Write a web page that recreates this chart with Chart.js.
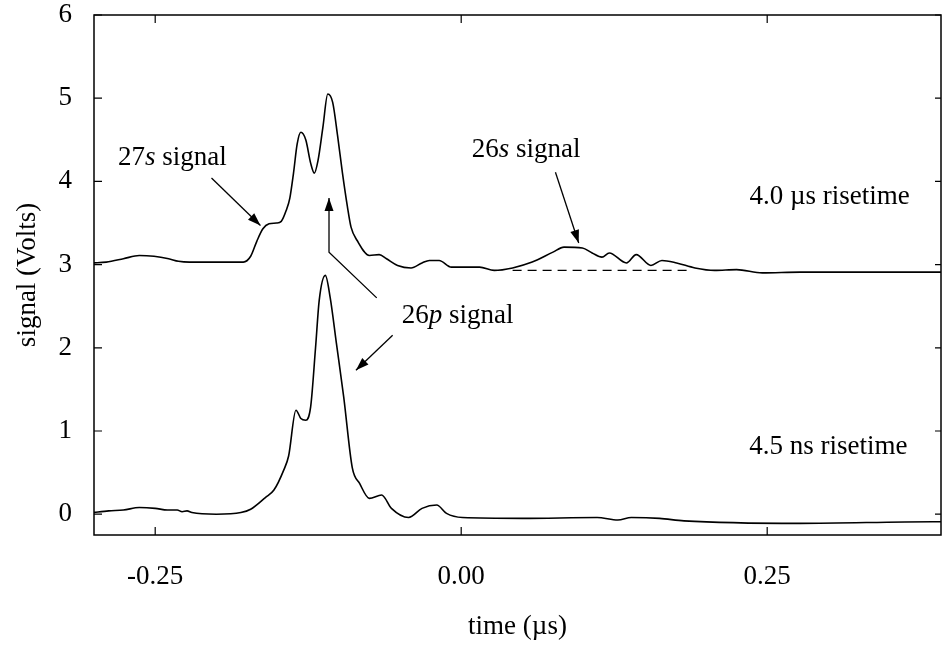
<!DOCTYPE html>
<html lang="en">
<head>
<meta charset="UTF-8">
<title>Signal vs time</title>
<script src="https://cdn.jsdelivr.net/npm/chart.js@4.4.1/dist/chart.umd.min.js"></script>
<style>
  html, body { margin: 0; padding: 0; background: #fff; }
  #wrap { width: 943px; height: 650px; position: relative; }
</style>
</head>
<body>
<div id="wrap"><canvas id="grafico"></canvas></div>
<script>
// upper trace (4.0 us risetime)
const upperTime = [-0.301, -0.290, -0.276, -0.263, -0.251, -0.239, -0.231, -0.222, -0.200, -0.178,
  -0.172, -0.167, -0.162, -0.157, -0.151, -0.147, -0.143, -0.140, -0.137, -0.134,
  -0.131, -0.127, -0.123, -0.120, -0.117, -0.113, -0.109, -0.105, -0.101, -0.097,
  -0.093, -0.090, -0.085, -0.075, -0.067, -0.061, -0.052, -0.041, -0.032, -0.026,
  -0.018, -0.008, 0.015, 0.027, 0.042, 0.058, 0.075, 0.084, 0.099, 0.107,
  0.115, 0.121, 0.135, 0.143, 0.155, 0.164, 0.176, 0.191, 0.207, 0.225,
  0.246, 0.277, 0.318, 0.392];
const upperSignal = [3.02, 3.03, 3.07, 3.11, 3.10, 3.07, 3.04, 3.03, 3.03, 3.03,
  3.10, 3.28, 3.43, 3.49, 3.50, 3.52, 3.65, 3.80, 4.10, 4.45,
  4.59, 4.50, 4.22, 4.10, 4.25, 4.65, 5.05, 4.95, 4.55, 4.10,
  3.70, 3.45, 3.29, 3.11, 3.12, 3.07, 2.99, 2.96, 3.02, 3.05,
  3.05, 2.97, 2.97, 2.93, 2.96, 3.03, 3.15, 3.21, 3.20, 3.14,
  3.09, 3.14, 3.02, 3.12, 2.99, 3.05, 3.02, 2.96, 2.93, 2.94,
  2.90, 2.91, 2.91, 2.91];

// dashed baseline under the 26s bump
const baseTime = [0.042, 0.188];
const baseSignal = [2.93, 2.93];

// lower trace (4.5 ns risetime)
const lowerTime = [-0.301, -0.288, -0.276, -0.263, -0.250, -0.240, -0.232, -0.228, -0.224, -0.220,
  -0.200, -0.180, -0.172, -0.160, -0.153, -0.145, -0.141, -0.135, -0.131, -0.127,
  -0.123, -0.119, -0.116, -0.111, -0.107, -0.102, -0.096, -0.089, -0.083, -0.075,
  -0.065, -0.057, -0.043, -0.032, -0.020, -0.012, 0.001, 0.050, 0.111, 0.128,
  0.139, 0.162, 0.182, 0.277, 0.385, 0.392];
const lowerSignal = [0.02, 0.04, 0.05, 0.08, 0.07, 0.05, 0.05, 0.03, 0.04, 0.02,
  0.00, 0.02, 0.06, 0.20, 0.29, 0.53, 0.70, 1.25, 1.15, 1.13,
  1.29, 2.00, 2.57, 2.87, 2.60, 2.06, 1.41, 0.56, 0.37, 0.19,
  0.23, 0.07, -0.04, 0.07, 0.11, 0.01, -0.04, -0.05, -0.04, -0.07,
  -0.04, -0.05, -0.08, -0.11, -0.09, -0.09];

const xTicks = [-0.25, 0.00, 0.25];
const yTicks = [0, 1, 2, 3, 4, 5, 6];

// annotations in data units
const labels = [
  { text: ['27', 's', ' signal'], x: -0.236, y: 4.28 },
  { text: ['26', 's', ' signal'], x: 0.053, y: 4.375 },
  { text: ['26', 'p', ' signal'], x: -0.003, y: 2.38 },
  { text: ['4.0 \u00b5s risetime', '', ''], x: 0.301, y: 3.81 },
  { text: ['4.5 ns risetime', '', ''], x: 0.300, y: 0.805 }
];
const arrows = [
  { pts: [[-0.204, 4.04], [-0.164, 3.47]] },
  { pts: [[0.077, 4.11], [0.096, 3.26]] },
  { pts: [[-0.069, 2.60], [-0.108, 3.15], [-0.108, 3.80]] },
  { pts: [[-0.056, 2.15], [-0.086, 1.73]] }
];

const serif = "'Liberation Serif', 'DejaVu Serif', serif";

const toXY = (xs, ys) => xs.map((x, i) => ({ x: x, y: ys[i] }));

const moldura = {
  id: 'moldura',
  afterDraw(chart) {
    const ctx = chart.ctx;
    const a = chart.chartArea;
    const sx = chart.scales.x, sy = chart.scales.y;
    ctx.save();
    ctx.strokeStyle = '#000';
    ctx.lineWidth = 1.5;
    ctx.strokeRect(a.left, a.top, a.right - a.left, a.bottom - a.top);
    ctx.lineWidth = 1.2;
    ctx.beginPath();
    xTicks.forEach(v => {
      const px = sx.getPixelForValue(v);
      ctx.moveTo(px, a.bottom); ctx.lineTo(px, a.bottom - 8);
      ctx.moveTo(px, a.top); ctx.lineTo(px, a.top + 8);
    });
    yTicks.forEach(v => {
      const py = sy.getPixelForValue(v);
      ctx.moveTo(a.left, py); ctx.lineTo(a.left + 8, py);
      ctx.moveTo(a.right, py); ctx.lineTo(a.right - 6, py);
    });
    ctx.stroke();

    // arrows
    ctx.lineWidth = 1.3;
    arrows.forEach(ar => {
      const p = ar.pts.map(q => [sx.getPixelForValue(q[0]), sy.getPixelForValue(q[1])]);
      ctx.beginPath();
      ctx.moveTo(p[0][0], p[0][1]);
      for (let i = 1; i < p.length; i++) ctx.lineTo(p[i][0], p[i][1]);
      ctx.stroke();
      const e = p[p.length - 1], s = p[p.length - 2];
      const ang = Math.atan2(e[1] - s[1], e[0] - s[0]);
      const len = 13, w = 4.5;
      ctx.beginPath();
      ctx.moveTo(e[0], e[1]);
      ctx.lineTo(e[0] - len * Math.cos(ang) + w * Math.sin(ang), e[1] - len * Math.sin(ang) - w * Math.cos(ang));
      ctx.lineTo(e[0] - len * Math.cos(ang) - w * Math.sin(ang), e[1] - len * Math.sin(ang) + w * Math.cos(ang));
      ctx.closePath();
      ctx.fillStyle = '#000';
      ctx.fill();
    });

    // text labels (number + italic letter + rest)
    ctx.fillStyle = '#000';
    ctx.textBaseline = 'middle';
    ctx.textAlign = 'left';
    labels.forEach(l => {
      const fN = '27px ' + serif, fI = 'italic 27px ' + serif;
      ctx.font = fN;
      const w1 = ctx.measureText(l.text[0]).width;
      const w3 = ctx.measureText(l.text[2]).width;
      ctx.font = fI;
      const w2 = ctx.measureText(l.text[1]).width;
      let x = sx.getPixelForValue(l.x) - (w1 + w2 + w3) / 2;
      const y = sy.getPixelForValue(l.y);
      ctx.font = fN; ctx.fillText(l.text[0], x, y); x += w1;
      ctx.font = fI; ctx.fillText(l.text[1], x, y); x += w2;
      ctx.font = fN; ctx.fillText(l.text[2], x, y);
    });
    ctx.restore();
  }
};

new Chart(document.querySelector('#grafico'), {
  type: 'line',
  data: {
    datasets: [
      { data: toXY(upperTime, upperSignal), borderColor: '#000', borderWidth: 1.6, pointRadius: 0, cubicInterpolationMode: 'monotone' },
      { data: toXY(baseTime, baseSignal), borderColor: '#000', borderWidth: 1.2, borderDash: [9, 6], pointRadius: 0 },
      { data: toXY(lowerTime, lowerSignal), borderColor: '#000', borderWidth: 1.6, pointRadius: 0, cubicInterpolationMode: 'monotone' }
    ]
  },
  options: {
    responsive: true,
    maintainAspectRatio: false,
    animation: false,
    layout: { padding: { top: 15, right: 2, left: 0, bottom: 0 } },
    plugins: { legend: { display: false }, tooltip: { enabled: false } },
    scales: {
      x: {
        type: 'linear',
        min: -0.30,
        max: 0.392,
        afterBuildTicks: s => { s.ticks = xTicks.map(v => ({ value: v })); },
        afterFit: s => { s.height = 115; s.paddingLeft = 0; s.paddingRight = 0; },
        grid: { display: false },
        border: { display: false },
        ticks: { color: '#000', padding: 18, font: { family: serif, size: 27 }, callback: v => v.toFixed(2) },
        title: { display: true, text: 'time (\u00b5s)', color: '#000', font: { family: serif, size: 27 }, padding: { top: 0, bottom: 7 } }
      },
      y: {
        type: 'linear',
        min: -0.25,
        max: 6,
        afterBuildTicks: s => { s.ticks = yTicks.map(v => ({ value: v })); },
        afterFit: s => { s.width = 94; s.paddingTop = 0; s.paddingBottom = 0; },
        grid: { display: false },
        border: { display: false },
        ticks: { color: '#000', padding: 14, font: { family: serif, size: 27 } },
        title: { display: true, text: 'signal (Volts)', color: '#000', font: { family: serif, size: 27 }, padding: { top: 12, bottom: 0 } }
      }
    }
  },
  plugins: [moldura]
});
</script>
</body>
</html>
